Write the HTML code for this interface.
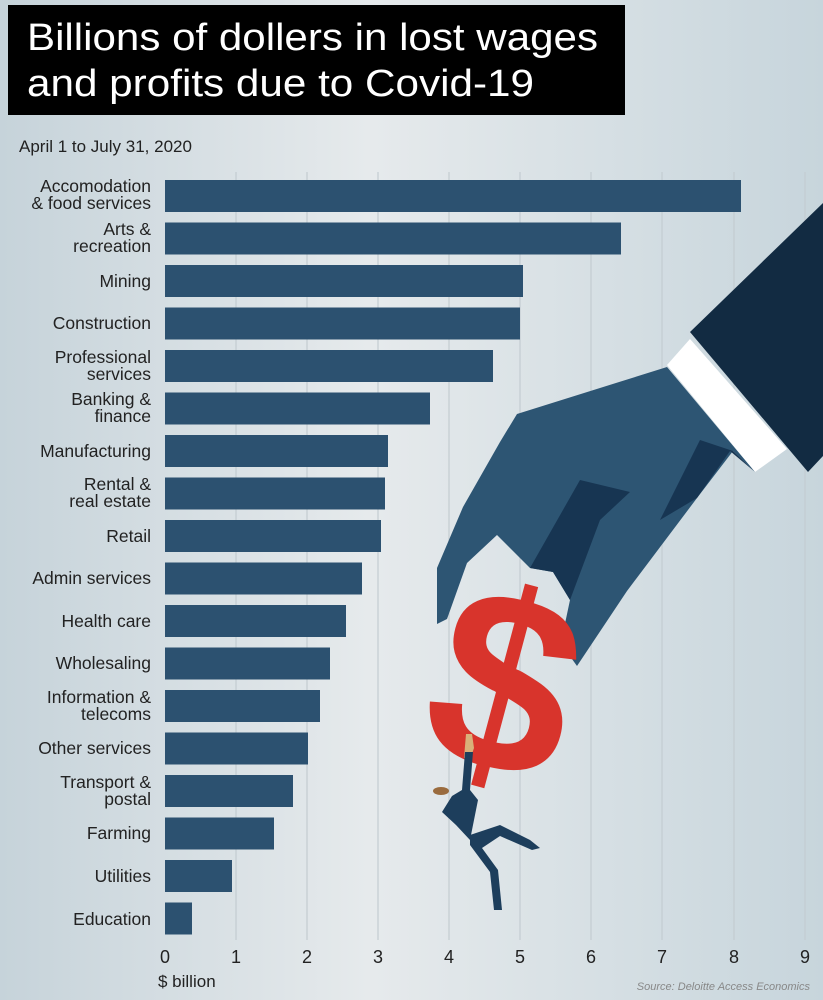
<!DOCTYPE html>
<html><head><meta charset="utf-8"><style>html,body{margin:0;padding:0;width:823px;height:1000px;overflow:hidden}</style></head><body>
<svg width="823" height="1000" viewBox="0 0 823 1000" xmlns="http://www.w3.org/2000/svg" font-family="Liberation Sans, Arial, sans-serif">
<defs>
<linearGradient id="bg" x1="0" y1="0" x2="1" y2="0">
<stop offset="0" stop-color="#c6d3da"/><stop offset="0.45" stop-color="#e6eaec"/><stop offset="1" stop-color="#c7d5dc"/>
</linearGradient>
</defs>
<rect width="823" height="1000" fill="url(#bg)"/>
<g stroke="#c3ccd1" stroke-width="1.2">
<line x1="236" y1="172" x2="236" y2="940"/><line x1="307" y1="172" x2="307" y2="940"/><line x1="378" y1="172" x2="378" y2="940"/><line x1="449" y1="172" x2="449" y2="940"/><line x1="520" y1="172" x2="520" y2="940"/><line x1="591" y1="172" x2="591" y2="940"/><line x1="662" y1="172" x2="662" y2="940"/><line x1="734" y1="172" x2="734" y2="940"/><line x1="805" y1="172" x2="805" y2="940"/>
</g>
<rect x="8" y="5" width="617" height="110" fill="#000"/>
<text x="27" y="50" fill="#fff" font-size="38" textLength="571" lengthAdjust="spacingAndGlyphs">Billions of dollers in lost wages</text>
<text x="27" y="96" fill="#fff" font-size="38" textLength="507" lengthAdjust="spacingAndGlyphs">and profits due to Covid-19</text>
<text x="19" y="152" fill="#222" font-size="17">April 1 to  July 31, 2020</text>
<g fill="#2c5170">
<rect x="165" y="180" width="576" height="32"/>
<rect x="165" y="222.5" width="456" height="32"/>
<rect x="165" y="265" width="358" height="32"/>
<rect x="165" y="307.5" width="355" height="32"/>
<rect x="165" y="350" width="328" height="32"/>
<rect x="165" y="392.5" width="265" height="32"/>
<rect x="165" y="435" width="223" height="32"/>
<rect x="165" y="477.5" width="220" height="32"/>
<rect x="165" y="520" width="216" height="32"/>
<rect x="165" y="562.5" width="197" height="32"/>
<rect x="165" y="605" width="181" height="32"/>
<rect x="165" y="647.5" width="165" height="32"/>
<rect x="165" y="690" width="155" height="32"/>
<rect x="165" y="732.5" width="143" height="32"/>
<rect x="165" y="775" width="128" height="32"/>
<rect x="165" y="817.5" width="109" height="32"/>
<rect x="165" y="860" width="67" height="32"/>
<rect x="165" y="902.5" width="27" height="32"/>
</g>
<g fill="#222" font-size="17.5" text-anchor="end">
<text x="151" y="192">Accomodation</text><text x="151" y="209">&amp; food services</text>
<text x="151" y="235">Arts &amp;</text><text x="151" y="252">recreation</text>
<text x="151" y="287">Mining</text>
<text x="151" y="329">Construction</text>
<text x="151" y="363">Professional</text><text x="151" y="380">services</text>
<text x="151" y="405">Banking &amp;</text><text x="151" y="422">finance</text>
<text x="151" y="457">Manufacturing</text>
<text x="151" y="490">Rental &amp;</text><text x="151" y="507">real estate</text>
<text x="151" y="542">Retail</text>
<text x="151" y="584">Admin services</text>
<text x="151" y="627">Health care</text>
<text x="151" y="669">Wholesaling</text>
<text x="151" y="703">Information &amp;</text><text x="151" y="720">telecoms</text>
<text x="151" y="754">Other services</text>
<text x="151" y="788">Transport &amp;</text><text x="151" y="805">postal</text>
<text x="151" y="839">Farming</text>
<text x="151" y="882">Utilities</text>
<text x="151" y="925">Education</text>
</g>
<g fill="#222" font-size="18" text-anchor="middle">
<text x="165" y="963">0</text><text x="236" y="963">1</text><text x="307" y="963">2</text><text x="378" y="963">3</text><text x="449" y="963">4</text><text x="520" y="963">5</text><text x="591" y="963">6</text><text x="662" y="963">7</text><text x="734" y="963">8</text><text x="805" y="963">9</text>
</g>
<text x="158" y="987" fill="#222" font-size="17">$ billion</text>
<text x="810" y="990" fill="#888" font-size="11" font-style="italic" text-anchor="end">Source: Deloitte Access Economics</text>
<polygon points="690,332 823,203 823,456 808,472" fill="#122b42"/>
<polygon points="667,365 690,339 787,449 755,472" fill="#ffffff"/>
<polygon points="667,367 517,414 500,442 463,507 437,568 437,624 447,619 467,563 497,535 530,568 553,572 570,600 563,633 567,652 577,666 627,591 697,498 733,451 755,472" fill="#2d5573"/>
<polygon points="530,568 580,480 630,492 600,520 570,600 553,572" fill="#173552"/>
<polygon points="697,498 730,451 755,472 733,451 700,440 660,520" fill="#173552"/>
<text x="0" y="0" font-size="255" font-weight="bold" fill="#d8342c" text-anchor="middle" transform="translate(482,768) rotate(15)">$</text>
<polygon points="466,734 472,734 474,748 470,760 464,758" fill="#d9b07a"/>
<polygon points="465,752 473,752 470,790 478,800 470,840 456,825 442,812 452,796 462,790" fill="#1d3e5c"/>
<polygon points="470,835 500,825 530,840 540,848 532,850 500,836 482,848 498,870 502,910 494,910 490,872 470,845" fill="#1d3e5c"/>
<ellipse cx="441" cy="791" rx="8" ry="4" fill="#9a6b3e"/>
</svg>
</body></html>
